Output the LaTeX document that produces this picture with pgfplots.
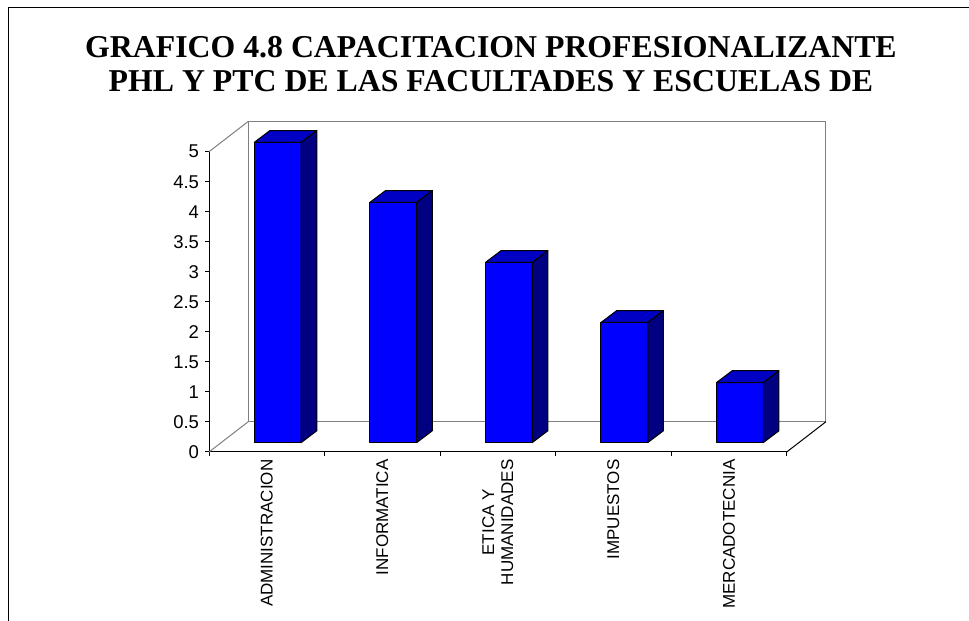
\documentclass[border=0pt]{standalone}
\usepackage{pgfplots}
\usepackage{pgfplotstable}
\pgfplotsset{compat=1.18}
\usepackage{fontspec}
\setmainfont{Liberation Sans}
\newfontfamily\titlefont{Liberation Serif}
\definecolor{barfront}{RGB}{0,0,255}
\definecolor{bartop}{RGB}{0,0,196}
\definecolor{barside}{RGB}{0,0,128}
\definecolor{wallgray}{RGB}{128,128,128}

\pgfplotstableread{
x v
0 5
1 4
2 3
3 2
4 1
}\datatable

% cuboid mark: origin = front-plane point (category centre, value)
\pgfdeclareplotmark{cuboid}{%
  \pgfkeys{/pgf/fpu=true,/pgf/fpu/output format=fixed}%
  \pgfmathparse{\val*60.06}%
  \edef\h{\pgfmathresult}%
  \pgfkeys{/pgf/fpu=false}%
  \pgfsetlinewidth{1pt}%
  \pgfsetstrokecolor{black}%
  \pgfsetroundjoin
  % front face
  \pgfsetfillcolor{barfront}%
  \pgfpathrectangle{\pgfpoint{-12.4pt}{9.4pt-\h pt}}{\pgfpoint{46.8pt}{\h pt}}%
  \pgfusepath{fill,stroke}%
  % top face
  \pgfsetfillcolor{bartop}%
  \pgfpathmoveto{\pgfpoint{-12.4pt}{9.4pt}}%
  \pgfpathlineto{\pgfpoint{34.4pt}{9.4pt}}%
  \pgfpathlineto{\pgfpoint{50.0pt}{21.2pt}}%
  \pgfpathlineto{\pgfpoint{3.2pt}{21.2pt}}%
  \pgfpathclose
  \pgfusepath{fill,stroke}%
  % side face
  \pgfsetfillcolor{barside}%
  \pgfpathmoveto{\pgfpoint{34.4pt}{9.4pt}}%
  \pgfpathlineto{\pgfpoint{50.0pt}{21.2pt}}%
  \pgfpathlineto{\pgfpoint{50.0pt}{21.2pt-\h pt}}%
  \pgfpathlineto{\pgfpoint{34.4pt}{9.4pt-\h pt}}%
  \pgfpathclose
  \pgfusepath{fill,stroke}%
}

\begin{document}
\begin{tikzpicture}
\useasboundingbox (0,0) rectangle (969pt,621pt);
\fill[white] (0,0) rectangle (969pt,621pt);
% outer frame (left and top; the right and bottom edges lie outside)
\draw[line width=1.6pt] (8.3pt,-5pt) -- (8.3pt,613.3pt) -- (975pt,613.3pt);
% title
\node[anchor=base, font=\titlefont\bfseries\fontsize{31.8}{31.8}\selectfont, inner sep=0pt]
  at (491pt,563pt) {GRAFICO 4.8 CAPACITACION PROFESIONALIZANTE};
\node[anchor=base, font=\titlefont\bfseries\fontsize{31.8}{31.8}\selectfont, inner sep=0pt]
  at (491pt,529pt) {PHL Y PTC DE LAS FACULTADES Y ESCUELAS DE};

\begin{axis}[
  at={(209pt,169pt)}, anchor=south west,
  scale only axis, width=577.7pt, height=300.3pt,
  xmin=-0.5, xmax=4.5, ymin=0, ymax=5,
  clip=false,
  axis x line*=bottom, axis y line*=left,
  axis line style={black, line width=1pt},
  tick align=outside,
  major tick length=4pt,
  tick style={black, line width=1pt},
  xtick={-0.5,0.5,1.5,2.5,3.5,4.5},
  x tick label as interval,
  xticklabels={ADMINISTRACION, INFORMATICA, {ETICA Y\\HUMANIDADES}, IMPUESTOS, MERCADOTECNIA},
  xticklabel style={rotate=90, anchor=east, align=center,
    font=\fontsize{17}{19}\selectfont},
  ytick={0,0.5,1,1.5,2,2.5,3,3.5,4,4.5,5},
  yticklabels={0,0.5,1,1.5,2,2.5,3,3.5,4,4.5,5},
  yticklabel style={font=\fontsize{18.5}{18.5}\selectfont, xshift=-2.5pt},
  /pgf/number format/assume math mode=true,
]
% walls and floor
\draw[wallgray, line width=1pt] (axis cs:-0.5,5) -- (axis cs:-0.16,5.5045);
\draw[wallgray, line width=1pt] (axis cs:-0.16,0.5045) rectangle (axis cs:4.84,5.5045);
\draw[wallgray, line width=1pt] (axis cs:-0.5,0) -- (axis cs:-0.16,0.5045);
\draw[black, line width=1pt] (axis cs:4.5,0) -- (axis cs:4.84,0.5045);
% bars
\addplot[scatter, only marks, mark=cuboid,
  scatter/@pre marker code/.code={\scope},
  scatter/@post marker code/.code={\endscope},
  visualization depends on={rawy \as \val}]
  table[x=x, y=v] {\datatable};
\end{axis}
\end{tikzpicture}
\end{document}
